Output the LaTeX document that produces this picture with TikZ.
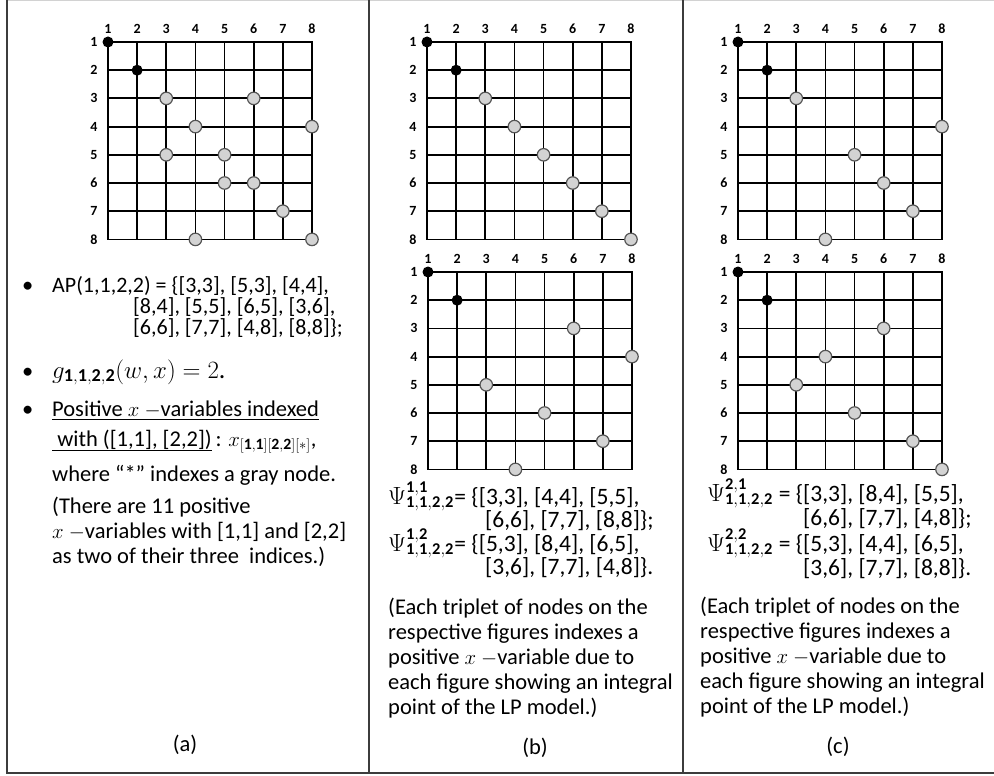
\documentclass[tikz,border=0pt]{standalone}
\usepackage{fontspec}
\setmainfont{Carlito}
\definecolor{DotGray}{RGB}{211,211,211}
\definecolor{RimGray}{RGB}{85,85,85}
\definecolor{FrameGray}{RGB}{60,60,60}

\newcommand{\cw}{29.14}
\newcommand{\rh}{28.2}
% one 8x8 board: #1 name prefix, #2 gray cells as row/column
\newcommand{\drawboard}[2]{%
  \foreach \k in {1,...,8}{%
    \draw[gridline] ({(\k-1)*\cw},0) -- ({(\k-1)*\cw},{7*\rh});
    \draw[gridline] (0,{(\k-1)*\rh}) -- ({7*\cw},{(\k-1)*\rh});
    \node[numlab] (#1c\k) at ({(\k-1)*\cw},-13) {\k};
    \node[numlab] (#1r\k) at (-14,{(\k-1)*\rh}) {\k};
  }
  \node[blackdot] (#1b1) at (0,0) {};
  \node[blackdot] (#1b2) at (\cw,\rh) {};
  \foreach \r/\c in {#2}
    \node[graydot] (#1g\r\c) at ({(\c-1)*\cw},{(\r-1)*\rh}) {};
}

\begin{document}
\begin{tikzpicture}[x=1pt,y=-1pt,
        gridline/.style={line width=1.8pt,line cap=rect},
        numlab/.style={font=\fontsize{14}{14}\selectfont\bfseries,inner sep=0pt},
        blackdot/.style={circle,fill=black,minimum size=11pt,inner sep=0pt},
        graydot/.style={circle,draw=RimGray,fill=DotGray,line width=1.2pt,
                        minimum size=12.5pt,inner sep=0pt},
        txt/.style={anchor=base west,align=left,inner sep=0pt,
                    font=\fontsize{22.5}{25}\selectfont},
        settxt/.style={txt,font=\fontsize{23.5}{25}\selectfont},
        aptxt/.style={txt,font=\fontsize{22}{25}\selectfont},
        caption/.style={font=\fontsize{22.5}{25}\selectfont,inner sep=0pt},
        framerule/.style={FrameGray,line width=1.6pt}]
  \useasboundingbox (0,0) rectangle (994,776);
  % frame and panel dividers
  \draw[gray!35,line width=1pt] (7,0.5) -- (994,0.5);
  \draw[framerule] (7,0) -- (7,773) -- (994,773);
  \draw[framerule] (369,0) -- (369,773);
  \draw[framerule] (683,0) -- (683,773);

  % boards
  \begin{scope}[shift={(108,42)}]
    \drawboard{A}{3/3,5/3,4/4,8/4,5/5,6/5,3/6,6/6,7/7,4/8,8/8}
  \end{scope}
  \begin{scope}[shift={(427,42)}]
    \drawboard{B}{3/3,4/4,5/5,6/6,7/7,8/8}
  \end{scope}
  \begin{scope}[shift={(428,272)}]
    \drawboard{D}{5/3,8/4,6/5,3/6,7/7,4/8}
  \end{scope}
  \begin{scope}[shift={(738,42)}]
    \drawboard{C}{3/3,8/4,5/5,6/6,7/7,4/8}
  \end{scope}
  \begin{scope}[shift={(738,272)}]
    \drawboard{E}{5/3,4/4,6/5,3/6,7/7,8/8}
  \end{scope}

  % panel (a)
  \node[txt] (bul1) at (22,292) {\textbullet};
  \node[aptxt] (ap1) at (52,292) {AP(1,1,2,2) = \{[3,3], [5,3], [4,4],};
  \node[aptxt] (ap2) at (133,313) {[8,4], [5,5], [6,5], [3,6],};
  \node[aptxt] (ap3) at (133,334) {[6,6], [7,7], [4,8], [8,8]\};};
  \node[txt] (bul2) at (22,378) {\textbullet};
  \node[txt,font=\fontsize{26}{25}\selectfont] (gval) at (52,378)
    {$g_{\mathbf{1,1,2,2}}(w,x)=2$.};
  \node[txt] (bul3) at (22,416) {\textbullet};
  \node[txt] (posx) at (52,416) {\underline{Positive $x$ $-$variables indexed}};
  \node[txt] (withx) at (52,446)
    {\underline{\ with ([1,1], [2,2])}\,: $x_{[\mathbf{1,1}][\mathbf{2,2}][*]}$,};
  \node[txt] (where) at (52,481) {where “*” indexes a gray node.};
  \node[txt] (there) at (52,563) {(There are 11 positive\\
    $x$ $-$variables with [1,1] and [2,2]\\
    as two of their three~~indices.)};
  \node[caption] (capa) at (185,745) {(a)};

  % panel (b)
  \node[settxt] (psi11) at (388,504) {$\Psi^{\mathbf{1,1}}_{\mathbf{1,1,2,2}}$};
  \node[settxt] (set11) at (psi11.base east) {= \{[3,3], [4,4], [5,5],};
  \node[settxt] (set11b) at (485,527) {[6,6], [7,7], [8,8]\};};
  \node[settxt] (psi12) at (388,551) {$\Psi^{\mathbf{1,2}}_{\mathbf{1,1,2,2}}$};
  \node[settxt] (set12) at (psi12.base east) {= \{[5,3], [8,4], [6,5],};
  \node[settxt] (set12b) at (485,574) {[3,6], [7,7], [4,8]\}.};
  \node[txt] (noteb) at (388,714) {(Each triplet of nodes on the\\
    respective figures indexes a\\
    positive $x$ $-$variable due to\\
    each figure showing an integral\\
    point of the LP model.)};
  \node[caption] (capb) at (535,748) {(b)};

  % panel (c)
  \node[settxt] (psi21) at (707,501) {$\Psi^{\mathbf{2,1}}_{\mathbf{1,1,2,2}}$};
  \node[settxt] (set21) at (psi21.base east) {\ = \{[3,3], [8,4], [5,5],};
  \node[settxt] (set21b) at (803,525) {[6,6], [7,7], [4,8]\};};
  \node[settxt] (psi22) at (707,551) {$\Psi^{\mathbf{2,2}}_{\mathbf{1,1,2,2}}$};
  \node[settxt] (set22) at (psi22.base east) {\ = \{[5,3], [4,4], [6,5],};
  \node[settxt] (set22b) at (803,575) {[3,6], [7,7], [8,8]\}.};
  \node[txt] (notec) at (700,713) {(Each triplet of nodes on the\\
    respective figures indexes a\\
    positive $x$ $-$variable due to\\
    each figure showing an integral\\
    point of the LP model.)};
  \node[caption] (capc) at (838,747) {(c)};
\end{tikzpicture}
\end{document}
